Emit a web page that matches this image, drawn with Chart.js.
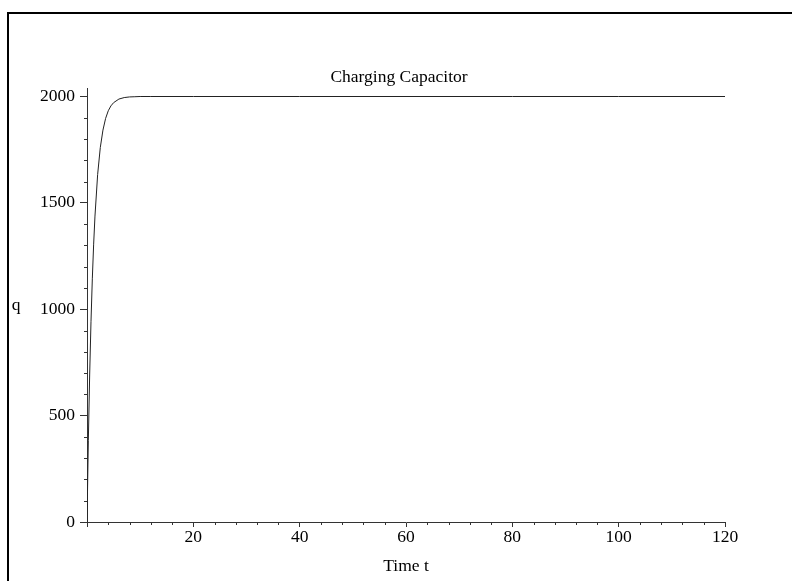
<!DOCTYPE html>
<html>
<head>
<meta charset="utf-8">
<script src="https://cdn.jsdelivr.net/npm/chart.js@4"></script>
<style>
  html, body { margin: 0; padding: 0; background: #fff; }
  #wrap { position: relative; width: 792px; height: 581px; overflow: hidden; }
  #frame { position: absolute; left: 7px; top: 12px; right: -4px; bottom: -4px;
           border-top: 2px solid #000; border-left: 2px solid #000; }
  canvas { position: absolute; left: 0; top: 0; }
</style>
</head>
<body>
<div id="wrap">
  <div id="frame"></div>
  <canvas id="chart" width="792" height="581"></canvas>
</div>
<script>
// time t and charge q
const tValues = [0, 0.25, 0.5, 0.75, 1, 1.25, 1.5, 2, 2.5, 3, 3.5, 4, 4.5, 5, 6, 7, 8, 9, 10, 12, 20, 40, 60, 80, 100, 120];
const qValues = [0, 382, 691, 941, 1143, 1306, 1438, 1633, 1760, 1842, 1897, 1933, 1956, 1971, 1988, 1995, 1998, 1999, 2000, 2000, 2000, 2000, 2000, 2000, 2000, 2000];

const xMajorTicks = [0, 20, 40, 60, 80, 100, 120];
const yMajorTicks = [0, 500, 1000, 1500, 2000];
const xMinorStep = 4;
const yMinorStep = 100;

const axisColor = '#333';
const serif = { family: '"Liberation Serif", "DejaVu Serif", serif', size: 17.5 };

// title, minor ticks and upright "q" label
const extras = {
    id: 'extras',
    afterDraw(chart) {
        const { ctx, scales: { x, y } } = chart;
        ctx.save();
        ctx.strokeStyle = axisColor;
        ctx.lineWidth = 1;
        ctx.beginPath();
        for (let v = 0; v <= x.max; v += xMinorStep) {
            if (xMajorTicks.includes(v)) continue;
            let px = Math.round(x.getPixelForValue(v)) + 0.5;
            ctx.moveTo(px, y.bottom);
            ctx.lineTo(px, y.bottom + 3);
        }
        for (let v = 0; v <= 2000; v += yMinorStep) {
            if (yMajorTicks.includes(v)) continue;
            let py = Math.round(y.getPixelForValue(v)) + 0.5;
            ctx.moveTo(x.left - 3, py);
            ctx.lineTo(x.left, py);
        }
        ctx.stroke();
        ctx.fillStyle = '#000';
        ctx.font = `${serif.size}px ${serif.family}`;
        ctx.textAlign = 'center';
        ctx.textBaseline = 'middle';
        ctx.fillText('Charging Capacitor', 399, 77);
        ctx.fillText('q', 16, (y.top + y.bottom) / 2);
        ctx.restore();
    }
};

new Chart(document.getElementById('chart'), {
    type: 'line',
    data: {
        datasets: [{
            data: tValues.map((t, i) => ({ x: t, y: qValues[i] })),
            borderColor: '#222',
            borderWidth: 1,
            pointRadius: 0,
            tension: 0,
            fill: false
        }]
    },
    options: {
        responsive: false,
        animation: false,
        layout: { padding: { left: 0, right: 67, top: 88, bottom: 0 } },
        plugins: {
            legend: { display: false },
            tooltip: { enabled: false },
            title: { display: false }
        },
        scales: {
            x: {
                type: 'linear',
                min: 0,
                max: 120,
                grid: { drawOnChartArea: false, drawTicks: true, tickLength: 5, color: axisColor },
                border: { display: true, color: axisColor, width: 1 },
                ticks: {
                    color: '#000', font: serif, padding: 0, maxRotation: 0, autoSkip: false,
                    callback: v => v === 0 ? '' : String(v)
                },
                afterBuildTicks: s => { s.ticks = xMajorTicks.map(v => ({ value: v })); },
                afterFit: s => { s.height = 59; },
                title: { display: true, text: 'Time t', color: '#000', font: serif, padding: { top: 0, bottom: 4 } }
            },
            y: {
                min: 0,
                max: 2040,
                grid: { drawOnChartArea: false, drawTicks: true, tickLength: 7, color: axisColor },
                border: { display: true, color: axisColor, width: 1 },
                ticks: { color: '#000', font: serif, padding: 5, callback: v => String(v) },
                afterBuildTicks: s => { s.ticks = yMajorTicks.map(v => ({ value: v })); },
                afterFit: s => { s.width = 87; }
            }
        }
    },
    plugins: [extras]
});
</script>
</body>
</html>
